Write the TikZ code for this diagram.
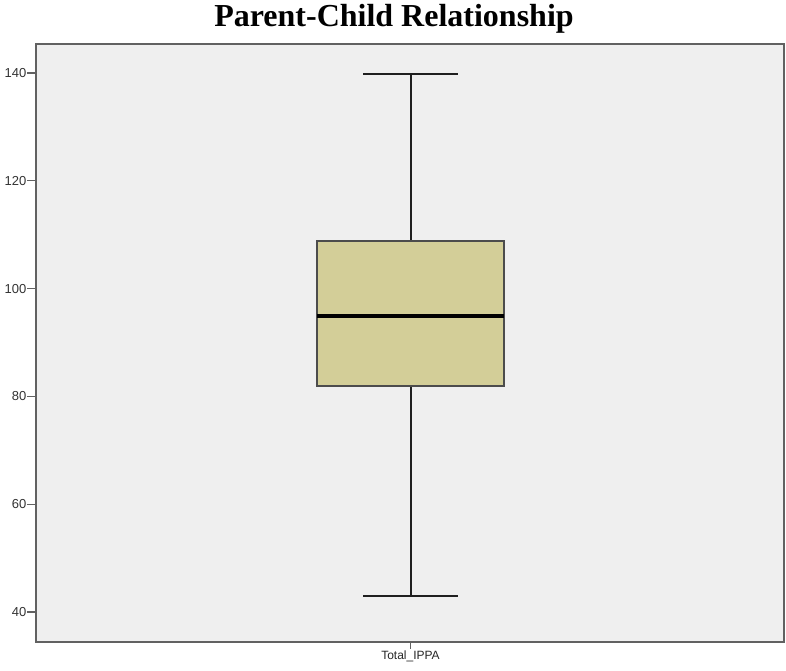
\documentclass[tikz,border=0pt]{standalone}
\usepackage{fontspec}
\setmainfont{Liberation Serif}
\setsansfont{Liberation Sans}
\begin{document}
\begin{tikzpicture}[x=1pt,y=-1pt,
  frameline/.style={draw=black!62,line width=2pt},
  whisker/.style={draw=black!88,line width=2pt},
  ticklab/.style={font=\sffamily\fontsize{13}{13}\selectfont,text=black!80,anchor=east,inner sep=0pt},
  boxfill/.style={fill=boxc,draw=black!70,line width=1.3pt}]
\definecolor{boxc}{RGB}{211,206,152}
\definecolor{panel}{RGB}{239,239,239}
\useasboundingbox (0,0) rectangle (786,670);
% plot panel
\fill[panel] (36,44) rectangle (784,642);
\draw[frameline] (36,44) rectangle (784,642);
% y axis ticks and labels (value v sits at y = 612 - 5.39*(v-40))
\foreach \v in {40,60,...,140}{
  \pgfmathsetmacro{\yy}{612-5.39*(\v-40)}
  \draw[frameline,line width=1.3pt] (27,\yy) -- (36,\yy);
  \node[ticklab] at (26.5,\yy) {\v};
}
% x axis tick and category label
\coordinate (xt) at (410.5,642);
\coordinate (xb) at (410.5,649);
\draw[frameline,line width=1.3pt] (xt) -- (xb);
\node[font=\sffamily\fontsize{12}{12}\selectfont,text=black!85,anchor=north,inner sep=0pt] (cat) at (410.5,651) {Total\_IPPA};
% whiskers
\coordinate (hi) at (410.5,74);
\coordinate (lo) at (410.5,596);
\coordinate (hiL) at (363,74);
\coordinate (hiR) at (458,74);
\coordinate (loL) at (363,596);
\coordinate (loR) at (458,596);
\draw[whisker] (hi) -- (410.5,241);
\draw[whisker] (lo) -- (410.5,386);
\draw[whisker] (hiL) -- (hiR);
\draw[whisker] (loL) -- (loR);
% box (Q1 = 82, Q3 = 109)
\node[boxfill,minimum width=187pt,minimum height=145pt,inner sep=0pt,outer sep=0pt] (box) at (410.5,313.5) {};
% median = 95
\draw[draw=black,line width=4pt] (box.west |- 0,316) -- (box.east |- 0,316);
% title
\node[font=\bfseries\fontsize{32}{32}\selectfont,anchor=base,inner sep=0pt] (title) at (394,26) {Parent-Child Relationship};
\end{tikzpicture}
\end{document}
